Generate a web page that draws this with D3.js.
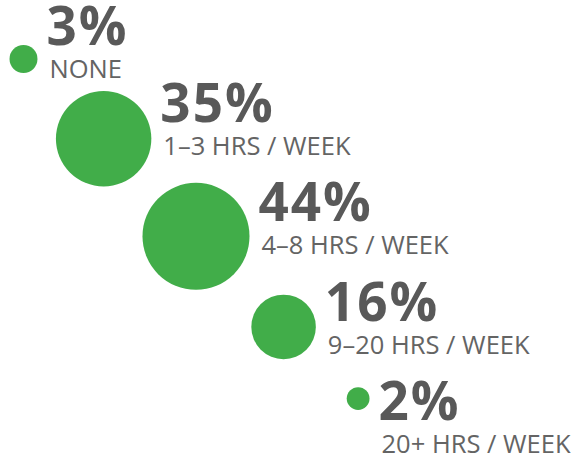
<!DOCTYPE html>
<html>
<head>
<meta charset="utf-8">
<script src="https://cdn.jsdelivr.net/npm/d3@7"></script>
<style>
  html, body { margin: 0; padding: 0; background: #fff; }
  svg { display: block; font-family: "Open Sans", sans-serif; }
</style>
</head>
<body>
<div id="chart"></div>
<script>
// share of respondents by weekly hours
const categories = ["NONE", "1\u20133 HRS / WEEK", "4\u20138 HRS / WEEK", "9\u201320 HRS / WEEK", "20+ HRS / WEEK"];
const values = [3, 35, 44, 16, 2];
const valueLabels = ["3%", "35%", "44%", "16%", "2%"];

const width = 575, height = 460;
const green = "#41ad49", grey = "#595959";

const data = categories.map((c, i) => ({ category: c, value: values[i], label: valueLabels[i], index: i }));

const svg = d3.select("#chart").append("svg")
    .attr("width", width)
    .attr("height", height);

const rScale = d3.scaleSqrt().domain([0, d3.max(values)]).range([0, 53.5]);

// walk down the diagonal, step grows with the two radii
let x = 23.5, y = 59;
data.forEach((d, i) => {
    d.r = rScale(d.value);
    if (i > 0) {
        const rs = data[i - 1].r + d.r;
        x += 61 + 0.31 * rs;
        y += 52 + 0.45 * rs;
    }
    d.cx = x;
    d.cy = y;
});

// label rows (first row sits tighter)
const labelY = d3.scaleLinear().domain([0, 1, categories.length - 1]).range([45, 122, 420]);

svg.selectAll(".bubble")
    .data(data)
    .enter().append("circle")
    .attr("class", "bubble")
    .attr("cx", d => d.cx)
    .attr("cy", d => d.cy)
    .attr("r", d => d.r)
    .attr("fill", green);

const labels = svg.selectAll(".lbl")
    .data(data)
    .enter().append("g")
    .attr("class", "lbl")
    .attr("transform", d => `translate(${d.cx + d.r + 9},${labelY(d.index)})`);

labels.append("text")
    .attr("x", 0)
    .attr("y", 0)
    .attr("fill", grey)
    .style("font-size", "53px")
    .style("font-weight", 700)
    .style("letter-spacing", "2px")
    .text(d => d.label);

labels.append("text")
    .attr("x", 3)
    .attr("y", 33)
    .attr("fill", "#646464")
    .style("font-size", "25.5px")
    .text(d => d.category);
</script>
</body>
</html>
